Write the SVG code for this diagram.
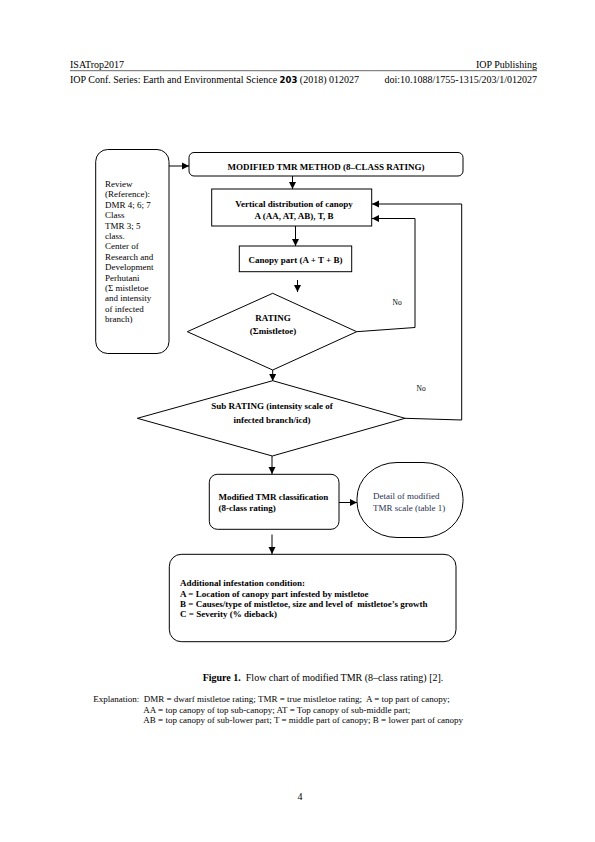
<svg xmlns="http://www.w3.org/2000/svg" width="595" height="842" viewBox="0 0 595 842">
<defs>
<marker id="ah" markerWidth="8" markerHeight="8" refX="7" refY="4" orient="auto" markerUnits="userSpaceOnUse">
<path d="M0,0.5 L7,4 L0,7.5 Z" fill="#000"/>
</marker>
<style>
.t{font-family:"Liberation Serif","Times New Roman",serif;fill:#000}
.b{font-weight:bold}
.box{fill:#fff;stroke:#000;stroke-width:1}
.ln{fill:none;stroke:#000;stroke-width:1}
.blue{fill:#1f3050}
</style>
</defs>
<rect width="595" height="842" fill="#fff"/>
<g id="header">
<text class="t" x="70" y="67.5" font-size="10">ISATrop2017</text>
<text class="t" x="537" y="67.5" font-size="10" text-anchor="end">IOP Publishing</text>
<line x1="70" y1="70.7" x2="537" y2="70.7" stroke="#000" stroke-width="0.6"/>
<text class="t" x="70" y="83" font-size="10">IOP Conf. Series: Earth and Environmental Science <tspan font-family="DejaVu Sans" font-weight="bold" font-size="8.5">203</tspan> (2018) 012027</text>
<text class="t" x="537" y="83" font-size="10" text-anchor="end">doi:10.1088/1755-1315/203/1/012027</text>
</g>
<g id="connectors">
<line class="ln" x1="169" y1="166" x2="189" y2="166" marker-end="url(#ah)"/>
<line class="ln" x1="292.5" y1="176" x2="292.5" y2="189" marker-end="url(#ah)"/>
<line class="ln" x1="295.5" y1="226" x2="295.5" y2="246" marker-end="url(#ah)"/>
<line class="ln" x1="297.5" y1="280" x2="297.5" y2="292" marker-end="url(#ah)"/>
<line class="ln" x1="272.7" y1="370" x2="272.7" y2="381" marker-end="url(#ah)"/>
<line class="ln" x1="272" y1="456" x2="272" y2="474" marker-end="url(#ah)"/>
<line class="ln" x1="339" y1="502.5" x2="357" y2="502.5" marker-end="url(#ah)"/>
<line class="ln" x1="272" y1="534.5" x2="272" y2="554" marker-end="url(#ah)"/>
<polyline class="ln" points="356.7,331.7 415,327.5 415,218.5 372,218.5" marker-end="url(#ah)"/>
<polyline class="ln" points="405,418.3 461.7,420 461.7,204 372,204" marker-end="url(#ah)"/>
<text class="t" x="392.5" y="304.5" font-size="7.5">No</text>
<text class="t" x="416.5" y="390.5" font-size="7.5">No</text>
</g>
<g id="review">
<rect class="box" x="95.7" y="149.5" width="73.3" height="204" rx="12" ry="12"/>
<text class="t" x="105" font-size="9">
<tspan x="105" y="187">Review</tspan>
<tspan x="105" y="197.4">(Reference):</tspan>
<tspan x="105" y="207.8">DMR 4; 6; 7</tspan>
<tspan x="105" y="218.2">Class</tspan>
<tspan x="105" y="228.6">TMR 3; 5</tspan>
<tspan x="105" y="239">class.</tspan>
<tspan x="105" y="249.4">Center of</tspan>
<tspan x="105" y="259.8">Research and</tspan>
<tspan x="105" y="270.2">Development</tspan>
<tspan x="105" y="280.6">Perhutani</tspan>
<tspan x="105" y="291">(Σ mistletoe</tspan>
<tspan x="105" y="301.4">and intensity</tspan>
<tspan x="105" y="311.8">of infected</tspan>
<tspan x="105" y="322.2">branch)</tspan>
</text>
</g>
<g id="method">
<rect class="box" x="189" y="152.5" width="274" height="23.5" rx="5" ry="5"/>
<text class="t b" x="326" y="170" font-size="9" text-anchor="middle">MODIFIED TMR METHOD (8–CLASS RATING)</text>
</g>
<g id="vertical">
<rect class="box" x="211.7" y="189" width="160" height="37"/>
<text class="t b" x="294" y="207" font-size="9" text-anchor="middle">Vertical distribution of canopy</text>
<text class="t b" x="294" y="218.5" font-size="9" text-anchor="middle">A (AA, AT, AB), T, B</text>
</g>
<g id="canopy">
<rect class="box" x="239.3" y="246" width="112.4" height="25.7"/>
<text class="t b" x="295.5" y="263.3" font-size="9" text-anchor="middle">Canopy part (A + T + B)</text>
</g>
<g id="rating">
<polygon class="box" points="272.7,293.3 356.7,331.7 272.7,370 187.3,331.7"/>
<text class="t b" x="273" y="321" font-size="9" text-anchor="middle">RATING</text>
<text class="t b" x="273" y="333.5" font-size="9" text-anchor="middle">(Σmistletoe)</text>
</g>
<g id="subrating">
<polygon class="box" points="272.7,380.7 405,418.3 272.3,456 137.3,418.3"/>
<text class="t b" x="272" y="409" font-size="9" text-anchor="middle">Sub RATING (intensity scale of</text>
<text class="t b" x="272" y="422.5" font-size="9" text-anchor="middle">infected branch/icd)</text>
</g>
<g id="classification">
<rect class="box" x="209.3" y="474.3" width="129.7" height="55" rx="8" ry="8"/>
<text class="t b" x="218.5" y="500" font-size="9">Modified TMR classification</text>
<text class="t b" x="218.5" y="511" font-size="9">(8-class rating)</text>
</g>
<g id="detail">
<rect class="box" x="357" y="462.5" width="106" height="75" rx="40" ry="36"/>
<text class="t blue" x="373" y="499" font-size="9">Detail of modified</text>
<text class="t blue" x="373" y="510.5" font-size="9">TMR scale (table 1)</text>
</g>
<g id="additional">
<rect class="box" x="169.3" y="554.3" width="286.7" height="87.4" rx="12" ry="12"/>
<text class="t b" x="180" y="586" font-size="9">Additional infestation condition:</text>
<text class="t b" x="180" y="596.5" font-size="9">A = Location of canopy part infested by mistletoe</text>
<text class="t b" x="180" y="606.8" font-size="9" xml:space="preserve">B = Causes/type of mistletoe, size and level of  mistletoe’s growth</text>
<text class="t b" x="180" y="617" font-size="9">C = Severity (% dieback)</text>
</g>
<g id="caption">
<text class="t" x="323" y="681" font-size="10" text-anchor="middle" xml:space="preserve"><tspan font-weight="bold">Figure 1.</tspan>  Flow chart of modified TMR (8–class rating) [2].</text>
<text class="t" x="93.3" y="702" font-size="9" xml:space="preserve">Explanation:  DMR = dwarf mistletoe rating; TMR = true mistletoe rating;  A = top part of canopy;</text>
<text class="t" x="143.3" y="712.5" font-size="9">AA = top canopy of top sub-canopy; AT = Top canopy of sub-middle part;</text>
<text class="t" x="143.3" y="723" font-size="9">AB = top canopy of sub-lower part; T = middle part of canopy; B = lower part of canopy</text>
<text class="t" x="300" y="800" font-size="10" text-anchor="middle">4</text>
</g>
</svg>
